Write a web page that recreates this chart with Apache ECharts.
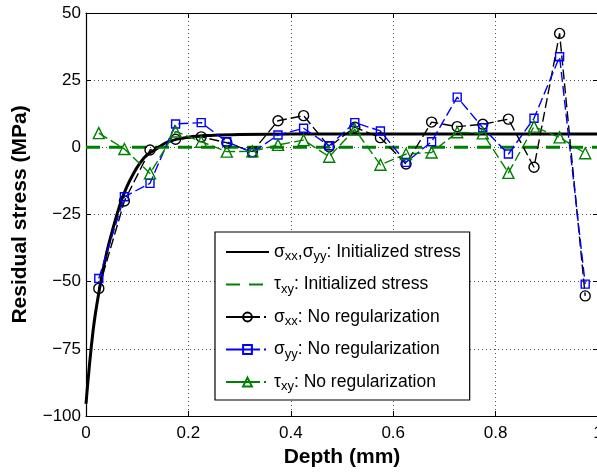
<!DOCTYPE html>
<html>
<head>
<meta charset="utf-8">
<script src="https://cdn.jsdelivr.net/npm/echarts@6/dist/echarts.min.js"></script>
<style>
html,body{margin:0;padding:0;background:#fff;}
#c{width:597px;height:472px;}
</style>
</head>
<body>
<div id="c"></div>
<script>
// Depth positions of reconstruction points (mm)
var depth = [0.025,0.075,0.125,0.175,0.225,0.275,0.325,0.375,0.425,0.475,0.525,0.575,0.625,0.675,0.725,0.775,0.825,0.875,0.925,0.975];
// No regularization results (MPa)
var sxxNoReg = [-52.5,-20.0,-1.0,3.0,3.9,1.7,-1.6,9.9,11.8,0.2,7.5,3.6,-6.2,9.4,7.7,8.6,10.5,-7.4,42.4,-55.3];
var syyNoReg = [-48.8,-18.4,-13.4,8.7,9.2,2.1,-2.0,4.6,7.1,0.6,9.2,6.1,-5.6,2.1,18.7,7.3,-2.5,10.8,33.7,-50.9];
var txyNoReg = [5.3,-0.6,-9.7,5.9,2.1,-1.6,-1.5,0.9,2.7,-3.5,6.7,-6.5,-2.5,-1.9,5.6,5.2,-9.5,7.7,3.7,-2.2];
// Initialized stress curves
var initX = [0,0.014,0.027,0.04,0.053,0.066,0.079,0.092,0.105,0.118,0.138,0.16,0.2,0.25,0.3,0.4,1.0];
var initSigma = [-95.5,-68,-52,-39.5,-30,-21.5,-15,-10,-6,-3,-0.5,2,3.8,4.5,4.8,5,5];
var initTauX = [0,1];
var initTau = [0,0];
// Axis ticks
var xTicks = {min:0,max:1,interval:0.2};
var yTicks = {min:-100,max:50,interval:25};

function zip(a,b){var r=[];for(var i=0;i<a.length;i++)r.push([a[i],b[i]]);return r;}

var FONT = '"Liberation Sans", Arial, Helvetica, sans-serif';
var rich = {
  t:{fontSize:17.5,fontFamily:FONT,color:'#000',lineHeight:22},
  s:{fontSize:13,fontFamily:FONT,color:'#000',lineHeight:7,verticalAlign:'bottom'}
};
var names = {
  'initS':'{t|σ}{s|xx}{t|,σ}{s|yy}{t|: Initialized stress}',
  'initT':'{t|τ}{s|xy}{t|: Initialized stress}',
  'sxx':'{t|σ}{s|xx}{t|: No regularization}',
  'syy':'{t|σ}{s|yy}{t|: No regularization}',
  'txy':'{t|τ}{s|xy}{t|: No regularization}'
};

var chart = echarts.init(document.getElementById('c'), null, {renderer:'canvas'});
var gridLine = {show:true,lineStyle:{color:'#555',width:1,type:[1,3]}};
var axisLine = {show:true,onZero:false,lineStyle:{color:'#000',width:1.2}};
var tick = {show:true,inside:true,length:5,lineStyle:{color:'#000',width:1}};
var lbl = {fontSize:17,fontFamily:FONT,color:'#000'};
var noSym = {color:'rgba(0,0,0,0)',borderWidth:0};
var legDash = {type:[34,4,2,10]};

var option = {
  animation:false,
  backgroundColor:'#fff',
  grid:{left:86,right:-1,top:13,bottom:56,containLabel:false,outerBoundsMode:'none'},
  xAxis:[{
    type:'value',min:xTicks.min,max:xTicks.max,interval:xTicks.interval,
    axisLine:axisLine,axisTick:tick,splitLine:gridLine,
    axisLabel:Object.assign({margin:9,formatter:function(v){return String(+v.toFixed(1));}},lbl),
    name:'Depth (mm)',nameLocation:'middle',nameGap:30,
    nameTextStyle:{fontSize:21,fontWeight:'bold',fontFamily:FONT,color:'#000'}
  },{
    type:'value',position:'top',min:xTicks.min,max:xTicks.max,interval:xTicks.interval,
    axisLine:axisLine,axisTick:tick,splitLine:{show:false},axisLabel:{show:false}
  }],
  yAxis:[{
    type:'value',min:yTicks.min,max:yTicks.max,interval:yTicks.interval,
    axisLine:axisLine,axisTick:tick,splitLine:gridLine,
    axisLabel:Object.assign({margin:5,formatter:function(v){return String(v).replace('-','\u2212');}},lbl),
    name:'Residual stress (MPa)',nameLocation:'middle',nameGap:55,
    nameTextStyle:{fontSize:21,fontWeight:'bold',fontFamily:FONT,color:'#000'}
  },{
    type:'value',position:'right',min:yTicks.min,max:yTicks.max,interval:yTicks.interval,
    axisLine:axisLine,axisTick:tick,splitLine:{show:false},axisLabel:{show:false}
  }],
  legend:{
    orient:'vertical',left:215,top:232,
    padding:[11,9,7,10],itemGap:12.5,itemWidth:43,itemHeight:11,
    borderColor:'#000',borderWidth:1.2,backgroundColor:'#fff',
    data:[{name:'initS',itemStyle:noSym},{name:'initT',itemStyle:noSym},
          {name:'sxx',lineStyle:legDash},{name:'syy',lineStyle:legDash},{name:'txy',lineStyle:legDash}],
    formatter:function(n){return names[n];},
    textStyle:{rich:rich}
  },
  series:[
    {name:'initS',type:'line',data:zip(initX,initSigma),smooth:0.4,symbol:'none',showSymbol:false,
     lineStyle:{color:'#000',width:3},itemStyle:{color:'#000'},z:2},
    {name:'initT',type:'line',data:zip(initTauX,initTau),symbol:'none',showSymbol:false,
     lineStyle:{color:'#008000',width:3,type:[14,9]},itemStyle:{color:'#008000'},z:2},
    {name:'sxx',type:'line',data:zip(depth,sxxNoReg),symbol:'circle',symbolSize:10,
     lineStyle:{color:'#000',width:1.4,type:[10,4]},
     itemStyle:{color:'rgba(255,255,255,0)',borderColor:'#000',borderWidth:1.4},z:3},
    {name:'syy',type:'line',data:zip(depth,syyNoReg),symbol:'rect',symbolSize:8,
     lineStyle:{color:'#0000ff',width:1.4,type:[10,4]},
     itemStyle:{color:'rgba(255,255,255,0)',borderColor:'#0000ff',borderWidth:1.4},z:4},
    {name:'txy',type:'line',data:zip(depth,txyNoReg),symbol:'triangle',symbolSize:11,
     lineStyle:{color:'#008000',width:1.4,type:[10,4]},
     itemStyle:{color:'rgba(255,255,255,0)',borderColor:'#008000',borderWidth:1.4},z:5}
  ]
};
chart.setOption(option);
</script>
</body>
</html>
